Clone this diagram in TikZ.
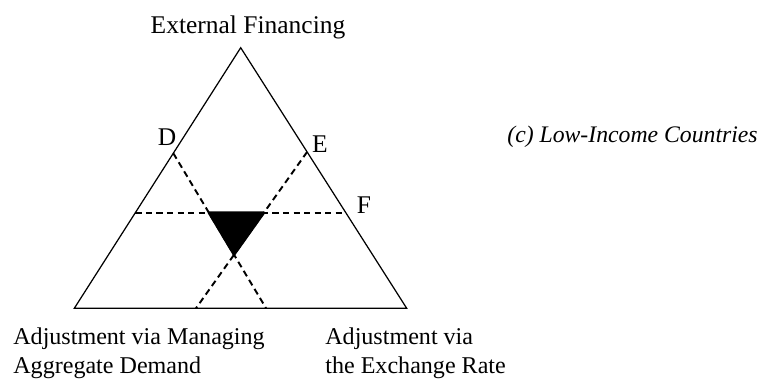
\documentclass[tikz,border=0pt]{standalone}
\usepackage{fontspec}
\setmainfont{Liberation Serif}
\usetikzlibrary{positioning,calc,intersections}
\tikzset{
  side/.style={draw=black,line width=0.7pt},
  guide/.style={draw=black,line width=1.1pt,dash pattern=on 3.6pt off 2.4pt},
  lbl/.style={font=\fontsize{14.5}{15}\selectfont,inner sep=0pt},
  pnt/.style={lbl,anchor=base},
  foot/.style={inner sep=0pt,align=left,anchor=north west,
    font=\fontsize{13.7}{14.5}\selectfont},
}

\begin{document}
\begin{tikzpicture}[x=0.02cm,y=-0.02cm]
  \useasboundingbox (0,0) rectangle (766,378);
  % corners of the triangle
  \coordinate (top) at (240.7,47.7);
  \coordinate (bl) at (74.3,308.3);
  \coordinate (br) at (406.7,308.3);
  % points on the sides and on the base
  \coordinate (d) at ($(top)!0.405!(bl)$);
  \coordinate (e) at ($(top)!0.40!(br)$);
  \coordinate (f) at ($(top)!0.633!(br)$);
  \coordinate (g) at ($(top)!0.633!(bl)$);
  \coordinate (dend) at ($(bl)!0.577!(br)$);
  \coordinate (eend) at ($(bl)!0.366!(br)$);

  \draw[side] (top) -- (bl) -- (br) -- cycle;
  \draw[guide,name path=dl] (d) -- (dend);
  \draw[guide,name path=el] (e) -- (eend);
  \draw[guide,name path=hl] (g) -- (f);

  % shaded core
  \path[name intersections={of=dl and hl,by=p1}];
  \path[name intersections={of=el and hl,by=p2}];
  \path[name intersections={of=dl and el,by=p3}];
  \filldraw[line width=1.4pt,line join=round] (p1) -- (p2) -- (p3) -- cycle;

  \node[pnt] (ext) at (248,34) {External Financing};
  \node[pnt] (dlab) at (167,146) {D};
  \node[pnt] (elab) at (320,153) {E};
  \node[pnt] (flab) at (364,213) {F};
  \node[lbl,anchor=base west,font=\fontsize{13.5}{15}\selectfont\itshape]
    (title) at (507,143) {(c) Low-Income Countries};
  \node[foot] (adem) at (13,327)
    {Adjustment via Managing\\[2pt]Aggregate Demand};
  \node[foot] (aexr) at (325,327)
    {Adjustment via\\[2pt]the Exchange Rate};
\end{tikzpicture}
\end{document}
